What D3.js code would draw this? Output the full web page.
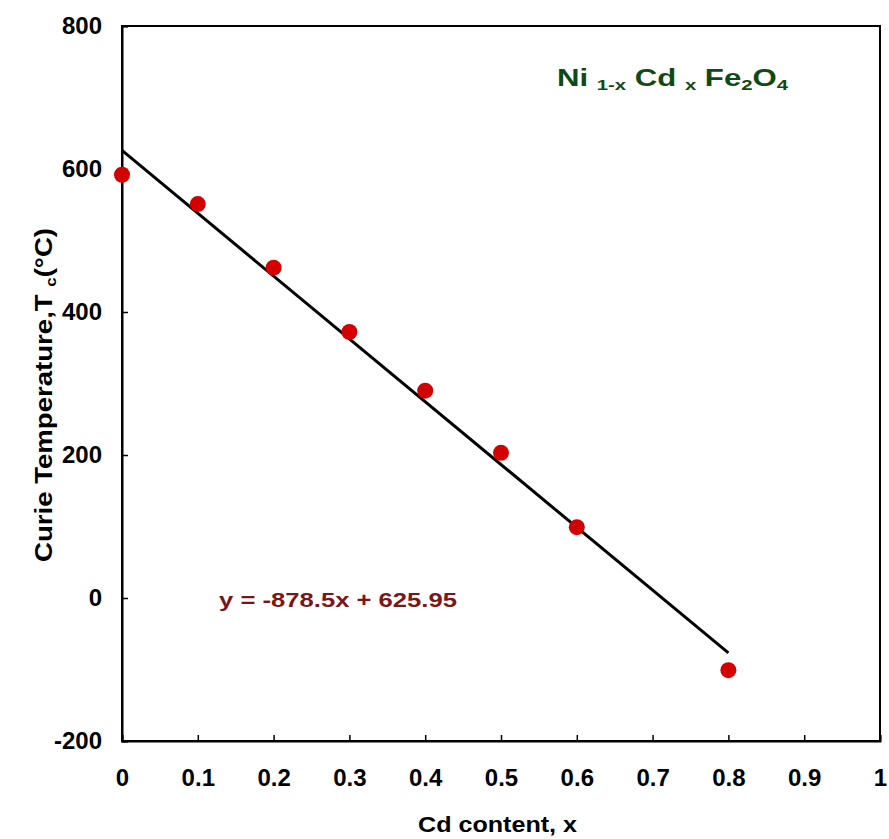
<!DOCTYPE html>
<html>
<head>
<meta charset="utf-8">
<script src="https://cdn.jsdelivr.net/npm/d3@7"></script>
<style>
  html, body { margin: 0; padding: 0; background: #fff; }
  svg text { font-family: "Liberation Sans", Arial, sans-serif; font-weight: bold; }
</style>
</head>
<body>
<svg id="chart" width="889" height="839"></svg>
<script>
// Cd content and measured Curie temperature (°C)
const cdContent = [0, 0.1, 0.2, 0.3, 0.4, 0.5, 0.6, 0.8];
const curieTemp = [592, 551, 462, 372, 290, 203, 99, -101];
// Linear fit y = slope*x + intercept
const fitSlope = -878.5;
const fitIntercept = 625.95;
const fitRange = [0, 0.8];
const xTicks = [0, 0.1, 0.2, 0.3, 0.4, 0.5, 0.6, 0.7, 0.8, 0.9, 1];
const yTicks = [-200, 0, 200, 400, 600, 800];

const svg = d3.select("#chart");
const x = d3.scaleLinear().domain([0, 1]).range([122, 880]);
const y = d3.scaleLinear().domain([-200, 800]).range([741, 26]);

// frame
svg.append("rect")
  .attr("x", x(0)).attr("y", y(800))
  .attr("width", x(1) - x(0)).attr("height", y(-200) - y(800))
  .attr("fill", "none").attr("stroke", "#000").attr("stroke-width", 2);

// axes with inward ticks
const xAxis = svg.append("g").attr("transform", `translate(0,${y(-200)})`)
  .call(d3.axisBottom(x).tickValues(xTicks).tickSize(-6).tickPadding(28)
    .tickFormat(d => String(d)));
xAxis.select(".domain").attr("stroke-width", 2);
xAxis.selectAll(".tick line").attr("stroke-width", 1.5);
xAxis.selectAll("text").attr("font-size", 24).attr("fill", "#000");

const yAxis = svg.append("g").attr("transform", `translate(${x(0)},0)`)
  .call(d3.axisLeft(y).tickValues(yTicks).tickSize(-6).tickPadding(20)
    .tickFormat(d => String(d)));
yAxis.select(".domain").attr("stroke-width", 2);
yAxis.selectAll(".tick line").attr("stroke-width", 1.5);
yAxis.selectAll("text").attr("font-size", 24).attr("fill", "#000");

// fitted line
const fitLine = d3.line().x(d => x(d)).y(d => y(fitSlope * d + fitIntercept));
svg.append("path").datum(fitRange)
  .attr("d", fitLine).attr("fill", "none")
  .attr("stroke", "#000").attr("stroke-width", 3);

// data points
svg.append("g").selectAll("circle")
  .data(cdContent.map((c, i) => [c, curieTemp[i]]))
  .join("circle")
  .attr("cx", d => x(d[0])).attr("cy", d => y(d[1]))
  .attr("r", 8).attr("fill", "#d40000");

// fit equation
svg.append("text")
  .attr("x", 219).attr("y", 607)
  .attr("font-size", 21).attr("fill", "#7c1515")
  .attr("textLength", 238).attr("lengthAdjust", "spacingAndGlyphs")
  .text(`y = ${fitSlope}x + ${fitIntercept}`);

// composition label
const title = svg.append("text").attr("x", 557).attr("y", 86)
  .attr("font-size", 23).attr("fill", "#0f4a14")
  .attr("textLength", 231).attr("lengthAdjust", "spacingAndGlyphs");
title.append("tspan").text("Ni ");
title.append("tspan").attr("font-size", 15).attr("dy", 4).text("1-x");
title.append("tspan").attr("dy", -4).text(" Cd ");
title.append("tspan").attr("font-size", 15).attr("dy", 4).text("x");
title.append("tspan").attr("dy", -4).text(" Fe");
title.append("tspan").attr("font-size", 15).attr("dy", 4).text("2");
title.append("tspan").attr("dy", -4).text("O");
title.append("tspan").attr("font-size", 15).attr("dy", 4).text("4");

// axis titles
svg.append("text")
  .attr("x", 418).attr("y", 832)
  .attr("font-size", 22).attr("fill", "#000")
  .attr("textLength", 159).attr("lengthAdjust", "spacingAndGlyphs")
  .text("Cd content, x");

const yt = svg.append("text")
  .attr("transform", "translate(52,562) rotate(-90)")
  .attr("font-size", 23).attr("fill", "#000")
  .attr("textLength", 334).attr("lengthAdjust", "spacingAndGlyphs");
yt.append("tspan").text("Curie Temperature,T ");
yt.append("tspan").attr("font-size", 14).attr("dy", 4).text("c");
yt.append("tspan").attr("dy", -4).text("(°C)");
</script>
</body>
</html>
